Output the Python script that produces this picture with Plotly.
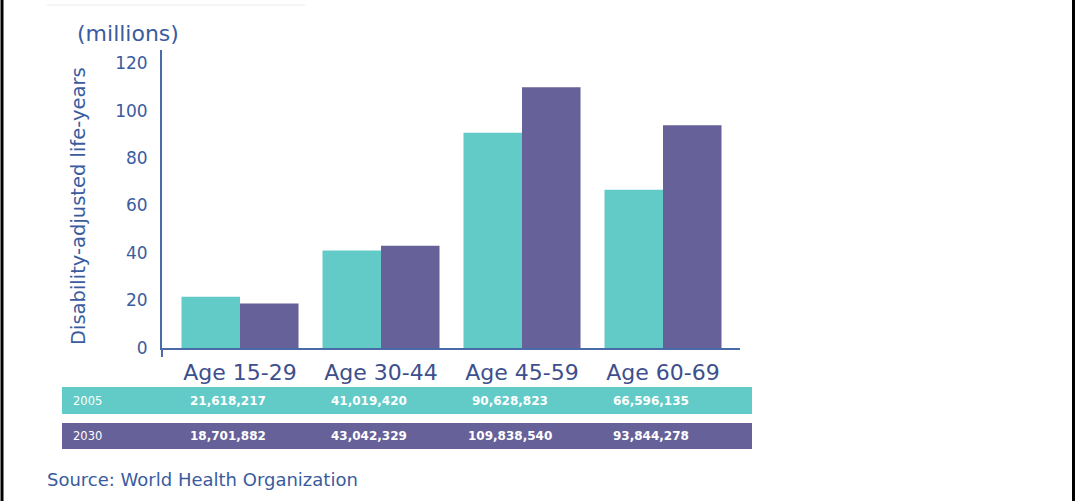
import plotly.graph_objects as go

categories = ["Age 15-29", "Age 30-44", "Age 45-59", "Age 60-69"]
years = ["2005", "2030"]
dalys_2005 = [21618217, 41019420, 90628823, 66596135]
dalys_2030 = [18701882, 43042329, 109838540, 93844278]
y_ticks = [0, 20, 40, 60, 80, 100, 120]

TEAL = "#62cbc7"
PURPLE = "#67619a"
TXT = "#3a5c9e"
AXIS = "#4a6aa8"
FONT = "DejaVu Sans"

W, H = 1075, 501
L, R, T, B = 162, 740, 50, 348  # plot area in pixels


def px(x):
    return (x - L) / (R - L)


def py(y):
    return (B - y) / (B - T)


x_idx = list(range(len(categories)))

fig = go.Figure()
fig.add_trace(go.Bar(x=x_idx, y=[v / 1e6 for v in dalys_2005], name=years[0],
                     marker=dict(color=TEAL, line=dict(width=0))))
fig.add_trace(go.Bar(x=x_idx, y=[v / 1e6 for v in dalys_2030], name=years[1],
                     marker=dict(color=PURPLE, line=dict(width=0))))

shapes = []
# table rows
shapes.append(dict(type="rect", xref="paper", yref="paper", x0=px(62), x1=px(752),
                   y0=py(414), y1=py(387), fillcolor=TEAL, line=dict(width=0), layer="below"))
shapes.append(dict(type="rect", xref="paper", yref="paper", x0=px(62), x1=px(752),
                   y0=py(449), y1=py(423), fillcolor=PURPLE, line=dict(width=0), layer="below"))
# y axis extension below zero
shapes.append(dict(type="line", xref="paper", yref="paper", x0=0, x1=0,
                   y0=py(357), y1=0, line=dict(color=AXIS, width=2)))
# frame lines left/right
shapes.append(dict(type="line", xref="paper", yref="paper", x0=px(2), x1=px(2),
                   y0=py(0), y1=py(501), line=dict(color="black", width=3)))
shapes.append(dict(type="line", xref="paper", yref="paper", x0=px(1073.5), x1=px(1073.5),
                   y0=py(0), y1=py(501), line=dict(color="black", width=3)))
# faint top line
shapes.append(dict(type="line", xref="paper", yref="paper", x0=px(47), x1=px(305),
                   y0=py(5), y1=py(5), line=dict(color="#f4f4f4", width=2)))

annotations = []
annotations.append(dict(text="(millions)", xref="paper", yref="paper", x=px(128), y=py(33),
                        showarrow=False, font=dict(family=FONT, size=22, color=TXT),
                        xanchor="center", yanchor="middle"))
annotations.append(dict(text="Disability-adjusted life-years", xref="paper", yref="paper",
                        x=px(78), y=py(206), textangle=-90, showarrow=False,
                        font=dict(family=FONT, size=19.5, color=TXT),
                        xanchor="center", yanchor="middle"))
row_y = [py(400.5), py(436)]
for yr, ry in zip(years, row_y):
    annotations.append(dict(text=yr, xref="paper", yref="paper", x=px(71), y=ry,
                            showarrow=False, xanchor="left", yanchor="middle",
                            font=dict(family=FONT, size=11.5, color="white")))
for vals, ry in zip([dalys_2005, dalys_2030], row_y):
    for i, v in enumerate(vals):
        annotations.append(dict(text=f"<b>{v:,}</b>", xref="x", yref="paper", x=i, y=ry,
                                xshift=-12, showarrow=False, xanchor="center", yanchor="middle",
                                font=dict(family=FONT, size=12, color="white")))
annotations.append(dict(text="Source: World Health Organization", xref="paper", yref="paper",
                        x=px(45), y=py(479), showarrow=False, xanchor="left", yanchor="middle",
                        font=dict(family=FONT, size=18, color=TXT)))

fig.update_layout(
    width=W, height=H,
    margin=dict(l=L, r=W - R, t=T, b=H - B, pad=0),
    paper_bgcolor="white", plot_bgcolor="white",
    showlegend=False,
    barmode="group", bargap=0.17, bargroupgap=0,
    shapes=shapes, annotations=annotations,
    xaxis=dict(tickmode="array", tickvals=x_idx, ticktext=categories,
               range=[(L - 240) / 141, (R - 240) / 141],
               showline=True, linecolor=AXIS, linewidth=2, showgrid=False, zeroline=False,
               ticks="", ticklabelstandoff=4,
               tickfont=dict(family=FONT, size=22, color="#3d4f8c")),
    yaxis=dict(range=[0, 125.5], tickvals=y_ticks, showline=True, linecolor=AXIS, linewidth=2,
               showgrid=False, zeroline=False, ticks="", ticklabelstandoff=9,
               tickfont=dict(family=FONT, size=17, color=TXT)),
)

fig.write_html("out.html")
